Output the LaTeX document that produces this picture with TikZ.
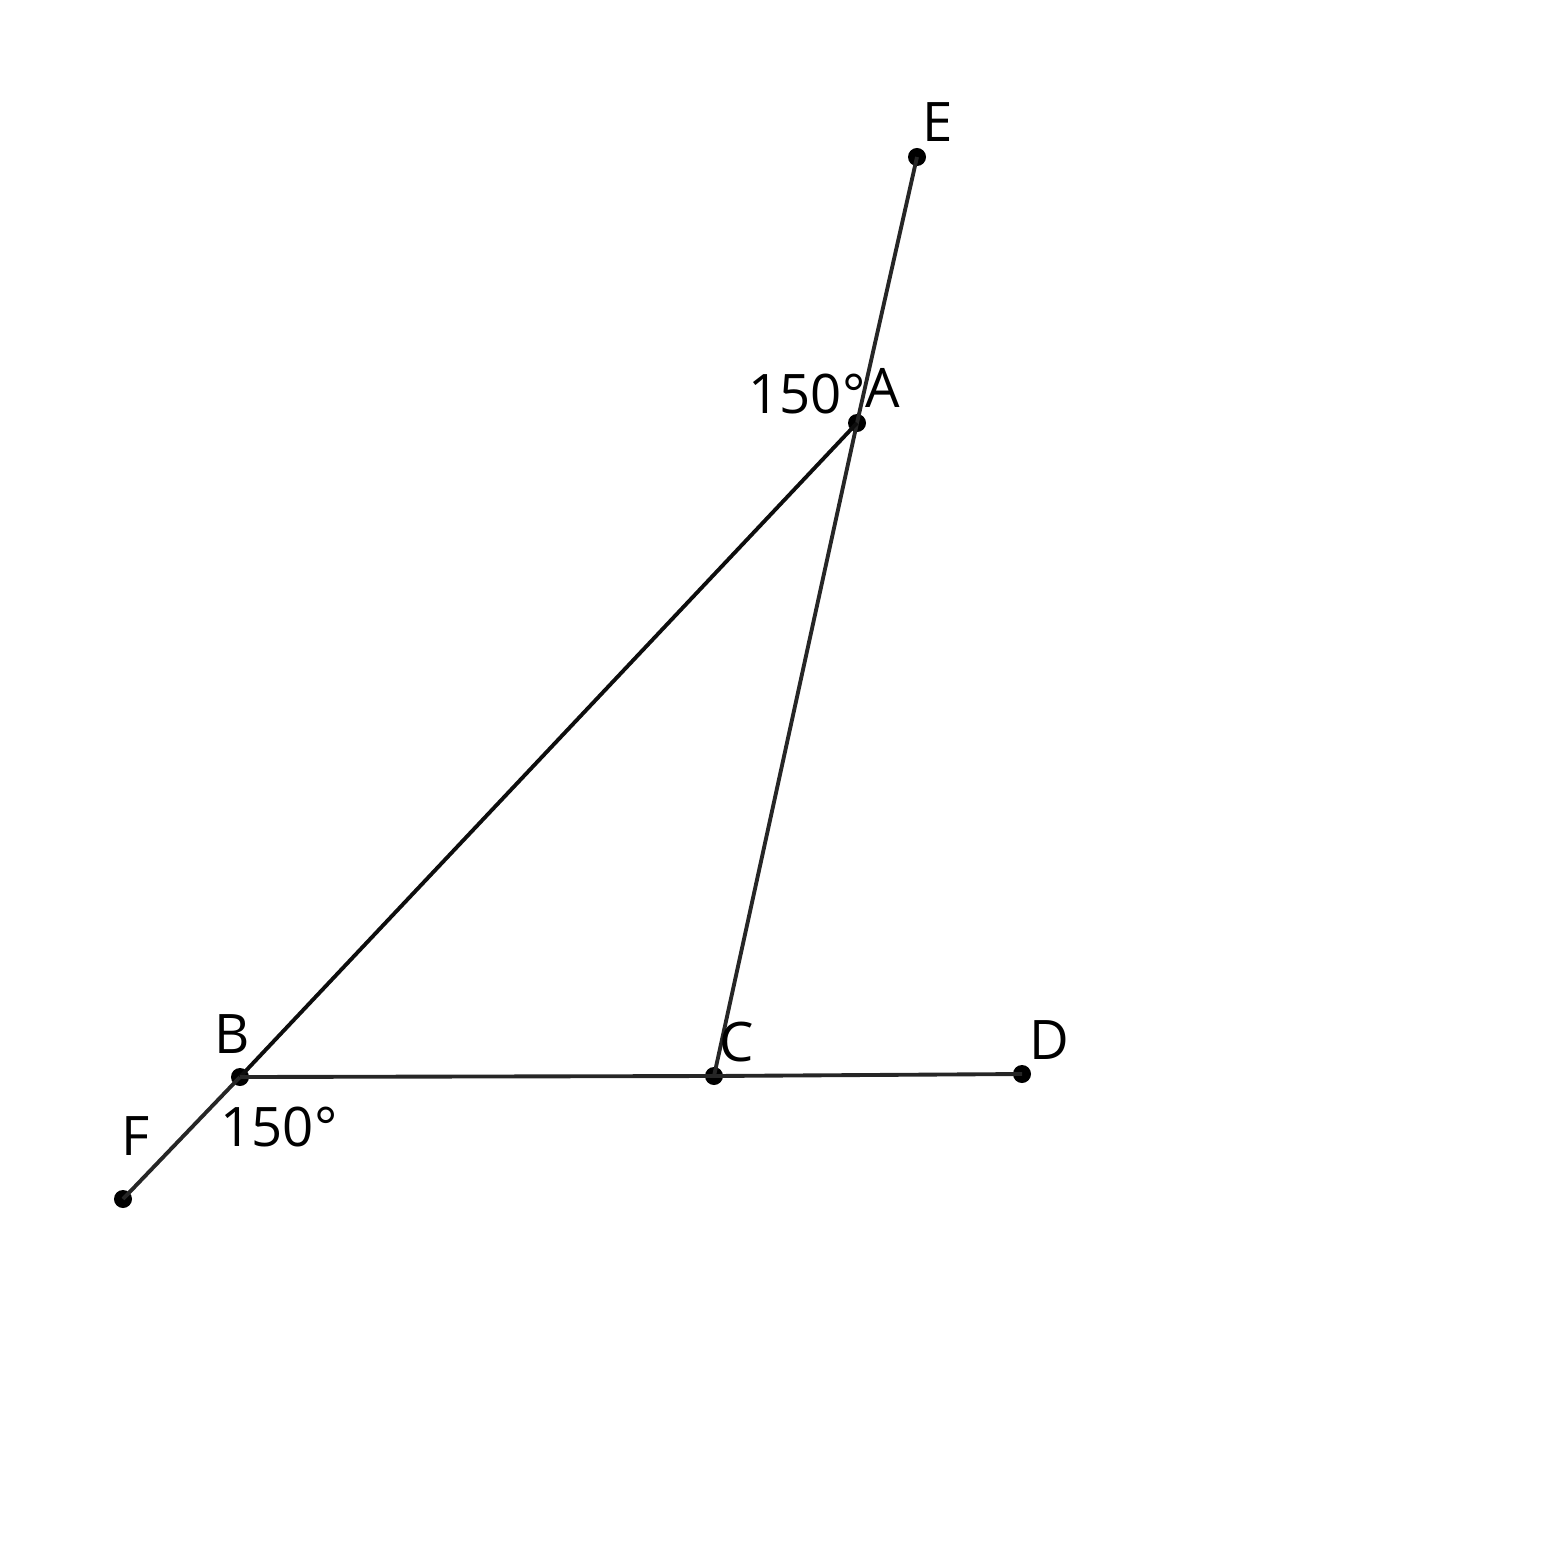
\documentclass[tikz,border=0pt]{standalone}
\usepackage{fontspec}
\setmainfont{Open Sans}
\tikzset{
  pt/.style={circle, fill=black, inner sep=0pt, minimum size=0.18cm},
  seg/.style={line width=1.1pt, draw=black!85},
  lbl/.style={font=\fontsize{15.5}{18}\selectfont, inner sep=0pt}
}
\begin{document}
\begin{tikzpicture}[x=0.01cm, y=-0.01cm]
  \useasboundingbox (0,0) rectangle (1546,1546);
  % points
  \node[pt] (E) at (917,157) {};
  \node[pt] (A) at (857,423) {};
  \node[pt] (B) at (240,1077) {};
  \node[pt] (C) at (714,1076) {};
  \node[pt] (D) at (1022,1074) {};
  \node[pt] (F) at (123,1199) {};
  % segments
  \draw[seg] (E.center) -- (A.center) -- (C.center);
  \draw[seg] (F.center) -- (B.center);
  \draw[seg, draw=black!95] (B.center) -- (A.center);
  \draw[seg] (B.center) -- (C.center) -- (D.center);
  % labels
  \node[lbl] (lE) at (938,122) {E};
  \node[lbl] (lA) at (883,388) {A};
  \node[lbl] (angA) at (807,394) {150°};
  \node[lbl] (lB) at (232,1034) {B};
  \node[lbl] (lC) at (737,1042) {C};
  \node[lbl] (lD) at (1049,1040) {D};
  \node[lbl] (lF) at (136,1136) {F};
  \node[lbl] (angB) at (279,1127) {150°};
\end{tikzpicture}
\end{document}
